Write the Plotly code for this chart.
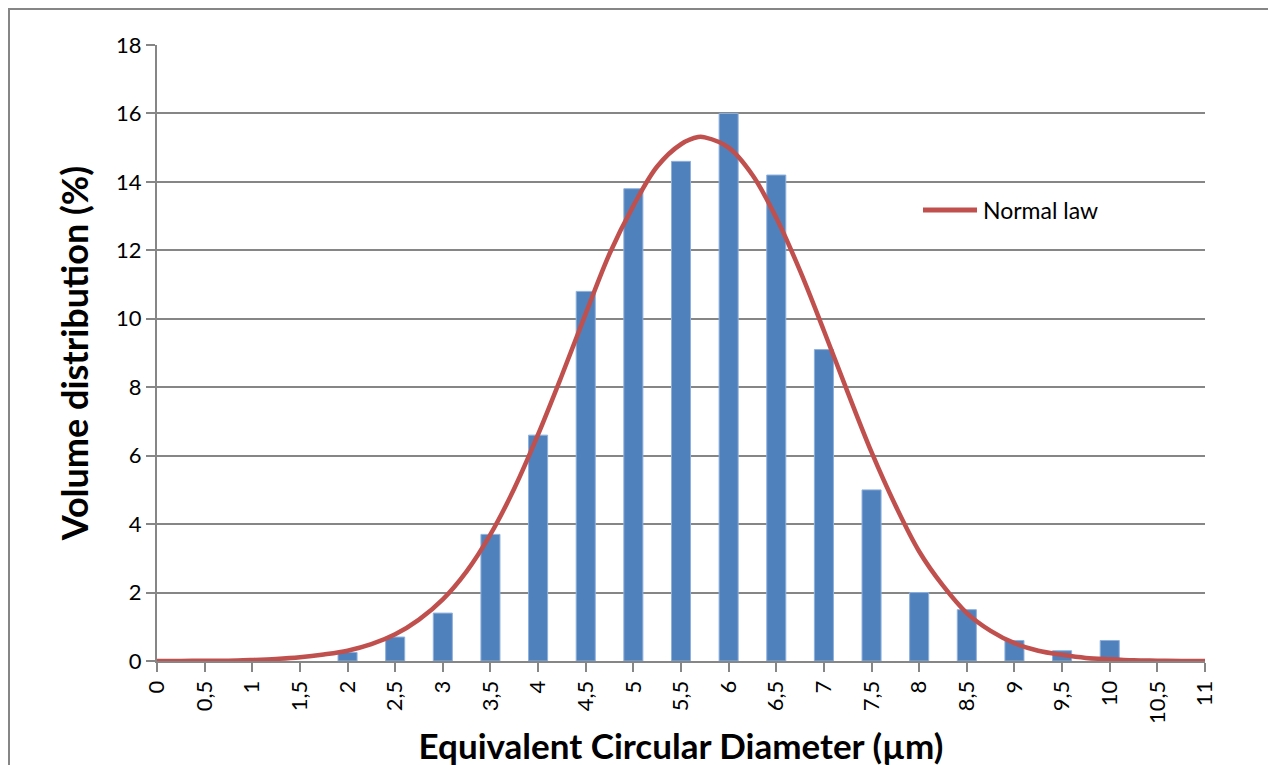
import plotly.graph_objects as go

# Bar data (volume distribution, %)
bar_x = [2, 2.5, 3, 3.5, 4, 4.5, 5, 5.5, 6, 6.5, 7, 7.5, 8, 8.5, 9, 9.5, 10]
bar_y = [0.25, 0.7, 1.4, 3.7, 6.6, 10.8, 13.8, 14.6, 16.0, 14.2, 9.1, 5.0, 2.0, 1.5, 0.6, 0.3, 0.6]

# Normal law curve
curve_x = [0, 0.25, 0.5, 0.75, 1.0, 1.25, 1.5, 1.75, 2.0, 2.25, 2.5, 2.75, 3.0, 3.25,
           3.5, 3.75, 4.0, 4.25, 4.5, 4.75, 5.0, 5.25, 5.5, 5.68, 5.75, 6.0, 6.25, 6.5,
           6.75, 7.0, 7.25, 7.5, 7.75, 8.0, 8.25, 8.5, 8.75, 9.0, 9.25, 9.5, 9.75, 10.0,
           10.25, 10.5, 10.75, 11.0]
curve_y = [0.00, 0.00, 0.01, 0.01, 0.03, 0.06, 0.11, 0.19, 0.30, 0.49, 0.78, 1.21, 1.80, 2.62,
           3.70, 5.04, 6.62, 8.35, 10.15, 11.90, 13.30, 14.45, 15.10, 15.31, 15.30, 15.00, 14.20, 12.95,
           11.40, 9.65, 7.85, 6.10, 4.55, 3.20, 2.20, 1.40, 0.88, 0.52, 0.30, 0.18, 0.09, 0.05,
           0.02, 0.01, 0.00, 0.00]

tick_vals = [0, 0.5, 1, 1.5, 2, 2.5, 3, 3.5, 4, 4.5, 5, 5.5, 6, 6.5, 7, 7.5, 8, 8.5, 9, 9.5, 10, 10.5, 11]
tick_text = ["0", "0,5", "1", "1,5", "2", "2,5", "3", "3,5", "4", "4,5", "5", "5,5", "6", "6,5",
             "7", "7,5", "8", "8,5", "9", "9,5", "10", "10,5", "11"]
y_ticks = [0, 2, 4, 6, 8, 10, 12, 14, 16, 18]

FONT = "Lato"
GRID = "#868686"
RED = "#C0504D"

# page body has an 8px offset; plot area should span x 157..1205, y 45..661
W, H = 1276, 765
L, T = 149, 37
PW, PH = 1048, 616

fig = go.Figure()
fig.add_trace(go.Bar(
    x=bar_x, y=bar_y, width=0.2,
    marker=dict(color="#4F81BD", line=dict(color="#8FB0DC", width=1)),
    showlegend=False, name="Volume",
))
fig.add_trace(go.Scatter(
    x=curve_x, y=curve_y, mode="lines", name="Normal law", showlegend=False,
    line=dict(color=RED, width=4.5, shape="spline"),
))

def px_x(p):
    return (p - 157) / PW

def px_y(p):
    return (661 - p) / PH

fig.update_layout(
    width=W, height=H,
    margin=dict(l=L, r=W - L - PW, t=T, b=H - T - PH),
    paper_bgcolor="white", plot_bgcolor="white",
    font=dict(family=FONT, size=22, color="black"),
    showlegend=False,
    xaxis=dict(
        range=[0, 11], tickmode="array", tickvals=tick_vals, ticktext=tick_text,
        tickangle=-90, ticks="outside", ticklen=9, tickcolor=GRID, tickwidth=2,
        showline=True, linecolor=GRID, linewidth=2, showgrid=False, zeroline=False,
        tickfont=dict(family=FONT, size=22),
        title=dict(text="<b>Equivalent Circular Diameter (µm)</b>",
                   font=dict(family=FONT, size=35), standoff=11),
    ),
    yaxis=dict(
        range=[0, 18], tickmode="array", tickvals=y_ticks,
        ticks="outside", ticklen=9, tickcolor=GRID, tickwidth=2,
        showline=True, linecolor=GRID, linewidth=2,
        showgrid=True, gridcolor=GRID, gridwidth=2, zeroline=False,
        tickfont=dict(family=FONT, size=22),
        title=dict(text="<b>Volume distribution (%)</b>",
                   font=dict(family=FONT, size=36), standoff=16),
    ),
    shapes=[
        dict(type="rect", xref="paper", yref="paper",
             x0=px_x(9), x1=px_x(1272), y0=px_y(771), y1=px_y(9),
             line=dict(color=GRID, width=2), fillcolor="rgba(0,0,0,0)", layer="above"),
        dict(type="line", xref="paper", yref="paper",
             x0=px_x(923), x1=px_x(977), y0=px_y(210), y1=px_y(210),
             line=dict(color=RED, width=5)),
    ],
    annotations=[
        dict(text="Normal law", xref="paper", yref="paper", x=px_x(981), y=px_y(210),
             xanchor="left", yanchor="middle", showarrow=False,
             font=dict(family=FONT, size=23, color="black")),
    ],
)

fig.write_html("out.html")
